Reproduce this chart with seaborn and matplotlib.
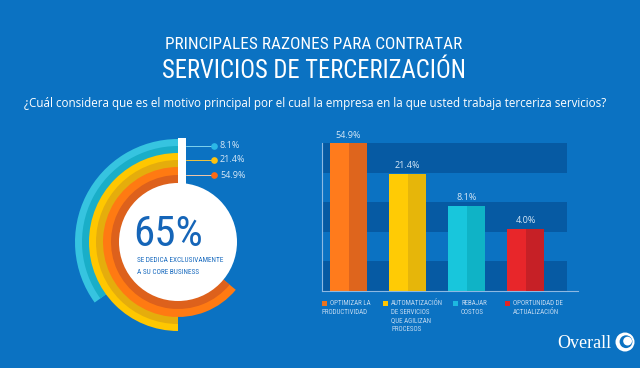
import numpy as np
import pandas as pd
import matplotlib
matplotlib.use("Agg")
import matplotlib.pyplot as plt
import seaborn as sns
from matplotlib import font_manager as fm
from matplotlib.patches import Circle, Rectangle

# ── Data ──────────────────────────────────────────────────────────────────────
reasons = [
    "OPTIMIZAR LA\nPRODUCTIVIDAD",
    "AUTOMATIZACIÓN\nDE SERVICIOS\nQUE AGILIZAN\nPROCESOS",
    "REBAJAR\nCOSTOS",
    "OPORTUNIDAD DE\nACTUALIZACIÓN",
]
shares = [54.9, 21.4, 8.1, 4.0]

# donut rings, outer -> inner
ring_values = [8.1, 21.4, 54.9]
ring_sweep = [35, 50, 64]          # part of the circle each arc covers (%)
core_pct = 65

# ── Colours ───────────────────────────────────────────────────────────────────
BG = "#0B72C2"
BAND = "#065AA3"
AXIS = "#8DB9E3"
LIGHT_TXT = "#D6E8F7"
LEG_TXT = "#BFD8F0"
bar_light = ["#FF7B1C", "#FFCB05", "#18C6DC", "#E8262A"]
bar_dark = ["#DE651D", "#E6B60A", "#0FB3C6", "#C62026"]
leg_colors = ["#EA731E", "#FFC600", "#1DB8E0", "#E32424"]
ring_light = ["#36C4E0", "#FFC700", "#FF7A12"]
ring_dark = ["#19AEC8", "#E5AD0C", "#DD611C"]
dot_colors = ["#2BB8E6", "#FFC20E", "#FF6A13"]
line_colors = ["#7FD3EE", "#F2C53D", "#F4C8A8"]


# ── Fonts ─────────────────────────────────────────────────────────────────────
def pick_font(cands):
    for name, stretch in cands:
        for f in fm.fontManager.ttflist:
            if f.name != name or f.style != "normal":
                continue
            if f.weight not in (400, "normal", "regular", "book"):
                continue
            if stretch is not None and f.stretch != stretch:
                continue
            return f.fname
    return None


cond_path = pick_font([
    ("Roboto Condensed", None),
    ("Noto Sans Condensed", None),
    ("Open Sans Condensed", None),
    ("Liberation Sans Narrow", None),
    ("DejaVu Sans", "condensed"),
    ("Noto Sans", "condensed"),
])


def cond(size):
    if cond_path:
        return fm.FontProperties(fname=cond_path, size=size)
    return fm.FontProperties(family="DejaVu Sans", size=size)


sns.set_theme(style="white")
plt.rcParams["font.family"] = ["Open Sans", "DejaVu Sans"]

W, H = 640, 368
fig = plt.figure(figsize=(W / 100, H / 100), dpi=100, facecolor=BG)


def fx(x):
    return x / W


def fy(y):
    return 1 - y / H


# ── Titles ────────────────────────────────────────────────────────────────────
fig.text(fx(314), fy(49), "PRINCIPALES RAZONES PARA CONTRATAR", ha="center",
         va="baseline", color="white", fontproperties=cond(12.4))
fig.text(fx(314), fy(78), "SERVICIOS DE TERCERIZACIÓN", ha="center",
         va="baseline", color="white", fontproperties=cond(17.7))
fig.text(fx(315), fy(106.5),
         "¿Cuál considera que es el motivo principal por el cual la empresa en la que "
         "usted trabaja terceriza servicios?",
         ha="center", va="baseline", color="white", fontsize=8.4)

# ── Bar chart ─────────────────────────────────────────────────────────────────
df = pd.DataFrame({"reason": reasons, "share": shares})
ax = fig.add_axes([fx(322), fy(291), 256 / W, 148 / H])
ax.set_facecolor("none")
for lo, hi in [(0, 0.2), (0.4, 0.6), (0.8, 1.0)]:
    ax.add_patch(Rectangle((0, lo), 0.957, hi - lo, transform=ax.transAxes,
                           color=BAND, lw=0, zorder=0))

bw = 0.627
sns.barplot(data=df, x="reason", y="share", hue="reason", palette=bar_light,
            width=bw, saturation=1, legend=False, ax=ax, zorder=2,
            linewidth=0, edgecolor="none")
ax.bar(np.arange(len(shares)) + bw / 4, shares, width=bw / 2, color=bar_dark,
       lw=0, zorder=3)
ax.set_yscale("log")
ax.set_ylim(0.6, 55)
ax.set_xlim(-0.45, 3.89)
for i, v in enumerate(shares):
    ax.annotate(f"{v:.1f}%", xy=(i, v), xytext=(0, 2.5), textcoords="offset points",
                ha="center", va="bottom", color=LIGHT_TXT, fontsize=6.5)
ax.tick_params(which="both", length=0, labelleft=False, labelbottom=False)
ax.set_xlabel("")
ax.set_ylabel("")
for s in ["top", "right"]:
    ax.spines[s].set_visible(False)
for s in ["left", "bottom"]:
    ax.spines[s].set_color(AXIS)
    ax.spines[s].set_linewidth(0.8)

# legend under the bars
leg_x = [322, 383, 453, 505]
for i, (lbl, c) in enumerate(zip(reasons, leg_colors)):
    x0 = leg_x[i]
    fig.patches.append(Rectangle((fx(x0), fy(306)), 5 / W, 5 / H,
                                 transform=fig.transFigure, color=c, lw=0))
    for k, line in enumerate(lbl.split("\n")):
        xo = x0 + 8 if (k == 0 or i > 0) else x0
        fig.text(fx(xo), fy(303.5 + k * 8.7), line, ha="left", va="center",
                 color=LEG_TXT, fontproperties=cond(5))

# ── Donut ─────────────────────────────────────────────────────────────────────
R = 110
axd = fig.add_axes([fx(178 - R), fy(242 + R), 2 * R / W, 2 * R / H])
edges = [103, 89, 75, 59]
for i, sweep in enumerate(ring_sweep):
    r_out, r_in = edges[i], edges[i + 1]
    r_mid = (r_out + r_in) / 2
    # full ring in the light tone (slightly overlapping the next ring to hide
    # seams), inner half covered by the dark tone
    axd.pie([sweep, 100 - sweep], radius=r_out, startangle=90, counterclock=True,
            colors=[ring_light[i], "none"],
            wedgeprops=dict(width=r_out - r_in + 0.8, lw=0))
    axd.pie([sweep, 100 - sweep], radius=r_mid, startangle=90, counterclock=True,
            colors=[ring_dark[i], "none"],
            wedgeprops=dict(width=r_mid - r_in + 0.8, lw=0))
    axd.plot([8, 36], [r_mid, r_mid], color=line_colors[i], lw=0.7, zorder=4)
    axd.plot([36], [r_mid], "o", ms=4.8, color=dot_colors[i], mec="none", zorder=5)
    axd.text(42, r_mid, f"{ring_values[i]}%", va="center", ha="left",
             color=LIGHT_TXT, fontsize=6.5)
axd.add_patch(Circle((0, 0), 59, color="white", lw=0, zorder=3))
axd.add_patch(Rectangle((0, 56), 8, 48, color="white", lw=0, zorder=3))
axd.set_xlim(-R, R)
axd.set_ylim(-R, R)
axd.set_aspect("equal")
axd.axis("off")

fig.text(fx(168), fy(234), f"{core_pct}%", ha="center", va="center",
         color="#1565B8", fontproperties=cond(31))
fig.text(fx(137), fy(261), "SE DEDICA EXCLUSIVAMENTE", ha="left", va="center",
         color="#1A6BBF", fontproperties=cond(5.2))
fig.text(fx(137), fy(272), "A SU CORE BUSINESS", ha="left", va="center",
         color="#1A6BBF", fontproperties=cond(5.2))

# ── Logo ──────────────────────────────────────────────────────────────────────
fig.text(fx(557), fy(348), "Overall", ha="left", va="baseline", color="white",
         family=["Liberation Serif", "DejaVu Serif"], fontsize=13)
axl = fig.add_axes([fx(614), fy(353), 22 / W, 22 / H])
axl.set_xlim(-11, 11)
axl.set_ylim(-11, 11)
axl.axis("off")
axl.add_patch(Circle((0, 0), 9.5, color="white", lw=0))
axl.add_patch(Circle((1.0, 0.3), 6.4, color=BG, lw=0))
axl.add_patch(Circle((2.6, 0.9), 4.4, color="white", lw=0))

fig.savefig("out.png", dpi=100, facecolor=BG)
